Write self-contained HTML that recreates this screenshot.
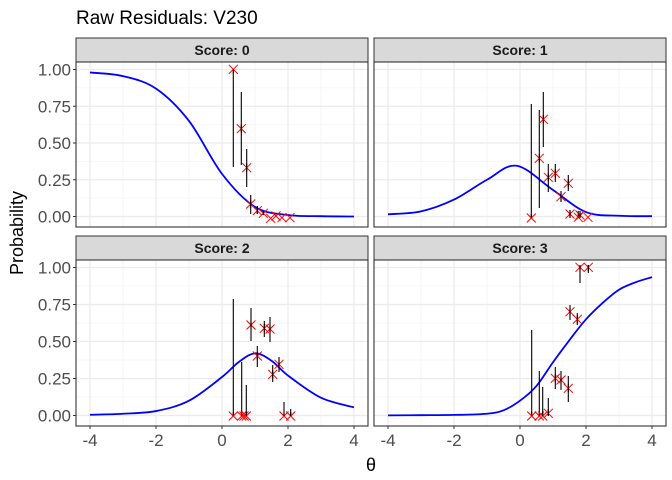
<!DOCTYPE html>
<html><head><meta charset="utf-8"><style>
body{margin:0;background:#fff;}
svg{display:block;font-family:"Liberation Sans","DejaVu Sans",sans-serif;}
</style></head><body>
<svg id="s" width="672" height="480" xmlns="http://www.w3.org/2000/svg">
<rect width="672" height="480" fill="#fff"/>
<text x="76" y="24" font-size="19" fill="#000">Raw Residuals: V230</text>
<text transform="translate(23,233) rotate(-90)" font-size="18" text-anchor="middle" fill="#000">Probability</text>
<text x="371" y="471" font-size="18" text-anchor="middle" fill="#000">θ</text>
</svg>
<script>
const s=document.getElementById('s');const NS='http://www.w3.org/2000/svg';
function el(t,a,txt){const e=document.createElementNS(NS,t);for(const k in a)e.setAttribute(k,a[k]);if(txt!==undefined)e.textContent=txt;s.appendChild(e);return e;}
const panels=[
 {x0:76,x1:368,y0:62,y1:227,sy:38,title:'Score: 0',left:true,bottom:false,
  curve:[[-4,.98],[-3,.955],[-2,.87],[-1,.65],[0,.29],[1,.065],[2,.01],[3,.002],[4,0]],
  pts:[[233.3,69.3,69,167],[241.3,128.7,92,165],[246.7,167.7,149,187],[250.7,204,195,214],[257.3,210.7,206,214],[263.3,213.3,211,215],[270.7,218.3],[276,216],[282,217.7],[290,217.7]]},
 {x0:374,x1:666,y0:62,y1:227,sy:38,title:'Score: 1',left:false,bottom:false,
  curve:[[-4,.015],[-3,.035],[-2,.115],[-1,.25],[-.1,.345],[1,.18],[2,.03],[3,.005],[4,.002]],
  pts:[[531.3,218,104,218],[539.3,158.3,110,208],[543.3,119.3,92,147],[548.3,177.3,164,192],[555.3,173.3,164,182],[561,196.7,191,202],[568.3,183.3,175,191],[570,214,210,218],[578.3,217.3,211,218],[580,215,211,218],[588,217.3]]},
 {x0:76,x1:368,y0:260,y1:426,sy:236,title:'Score: 2',left:true,bottom:true,
  curve:[[-4,.005],[-3,.012],[-2,.03],[-1,.1],[0,.26],[.5,.36],[1,.42],[1.5,.37],[2,.27],[3,.12],[4,.055]],
  pts:[[233.3,416,299,416],[241.7,416,362,416],[244,416],[246.3,416,385,416],[251,325,308,341],[257.3,356,346,367],[264.3,328.3,321,337],[270,329,317,342],[272.7,374.3,365,382],[279,364.3,357,372],[284,416,402,416],[290.7,416,409,416]]},
 {x0:374,x1:666,y0:260,y1:426,sy:236,title:'Score: 3',left:false,bottom:true,
  curve:[[-4,.001],[-3,.002],[-2,.004],[-1,.012],[-.5,.035],[0,.1],[.5,.2],[1,.36],[1.5,.51],[2,.65],[2.5,.76],[3,.85],[3.5,.9],[4,.935]],
  pts:[[531.7,416,330,416],[539.3,416,371,416],[542.7,416,387,416],[548.3,413.3,398,416],[555.3,378.3,367,389],[561,380,371,390],[568.3,388.3,376,402],[570,311.7,305,320],[577.3,319.3,313,325],[580,267.3,265,283],[588.3,267.3,265,273]]}
];
panels.forEach(P=>{
 const X=t=>P.x0+14+(t+4)*(P.x1-P.x0-28)/8;
 const yTop=P.y0+7.5,yBot=P.y1-10.5;
 const Y=p=>yBot-p*(yBot-yTop);
 el('rect',{x:P.x0,y:P.sy,width:P.x1-P.x0,height:P.y0-P.sy,fill:'#D9D9D9',stroke:'#333','stroke-width':1});
 el('text',{x:(P.x0+P.x1)/2,y:P.sy+17,'font-size':'14','font-weight':'bold','text-anchor':'middle',fill:'#1A1A1A'},P.title);
 el('rect',{x:P.x0,y:P.y0,width:P.x1-P.x0,height:P.y1-P.y0,fill:'#fff'});
 for(let t=-3;t<=3;t+=2)el('line',{x1:X(t),x2:X(t),y1:P.y0,y2:P.y1,stroke:'#F0F0F0','stroke-width':.6});
 for(let p=.125;p<1;p+=.25)el('line',{x1:P.x0,x2:P.x1,y1:Y(p),y2:Y(p),stroke:'#F0F0F0','stroke-width':.6});
 for(let t=-4;t<=4;t+=2)el('line',{x1:X(t),x2:X(t),y1:P.y0,y2:P.y1,stroke:'#EBEBEB','stroke-width':1.2});
 for(let p=0;p<=1.001;p+=.25)el('line',{x1:P.x0,x2:P.x1,y1:Y(p),y2:Y(p),stroke:'#EBEBEB','stroke-width':1.2});
 const c=P.curve.map(q=>[X(q[0]),Y(q[1])]);
 let d='M'+c[0][0]+','+c[0][1];
 for(let i=0;i<c.length-1;i++){const p0=c[Math.max(0,i-1)],p1=c[i],p2=c[i+1],p3=c[Math.min(c.length-1,i+2)];
  d+=' C'+(p1[0]+(p2[0]-p0[0])/6)+','+(p1[1]+(p2[1]-p0[1])/6)+' '+(p2[0]-(p3[0]-p1[0])/6)+','+(p2[1]-(p3[1]-p1[1])/6)+' '+p2[0]+','+p2[1];}
 el('path',{d:d,fill:'none',stroke:'#0000FF','stroke-width':1.8});
 P.pts.forEach(q=>{
  if(q.length>2)el('line',{x1:q[0],x2:q[0],y1:q[2],y2:q[3],stroke:'#000','stroke-width':1.1});
  const r=4.5;
  el('path',{d:`M${q[0]-r},${q[1]-r}L${q[0]+r},${q[1]+r}M${q[0]-r},${q[1]+r}L${q[0]+r},${q[1]-r}`,stroke:'#FF0000','stroke-width':1,fill:'none'});
  if(q.length>2)el('line',{x1:q[0],x2:q[0],y1:Math.max(q[2],q[1]-4),y2:Math.min(q[3],q[1]+4),stroke:'#000','stroke-width':1.1});
 });
 el('rect',{x:P.x0,y:P.y0,width:P.x1-P.x0,height:P.y1-P.y0,fill:'none',stroke:'#333','stroke-width':1.1});
 if(P.left){['0.00','0.25','0.50','0.75','1.00'].forEach((l,i)=>{const y=Y(i*.25);
  el('line',{x1:P.x0-3,x2:P.x0,y1:y,y2:y,stroke:'#333','stroke-width':1});
  el('text',{x:P.x0-5,y:y+6,'font-size':'17','text-anchor':'end',fill:'#4D4D4D'},l);});}
 if(P.bottom){[-4,-2,0,2,4].forEach(t=>{
  el('line',{x1:X(t),x2:X(t),y1:P.y1,y2:P.y1+3,stroke:'#333','stroke-width':1});
  el('text',{x:X(t),y:P.y1+20,'font-size':'17','text-anchor':'middle',fill:'#4D4D4D'},String(t));});}
});
</script>
</body></html>
